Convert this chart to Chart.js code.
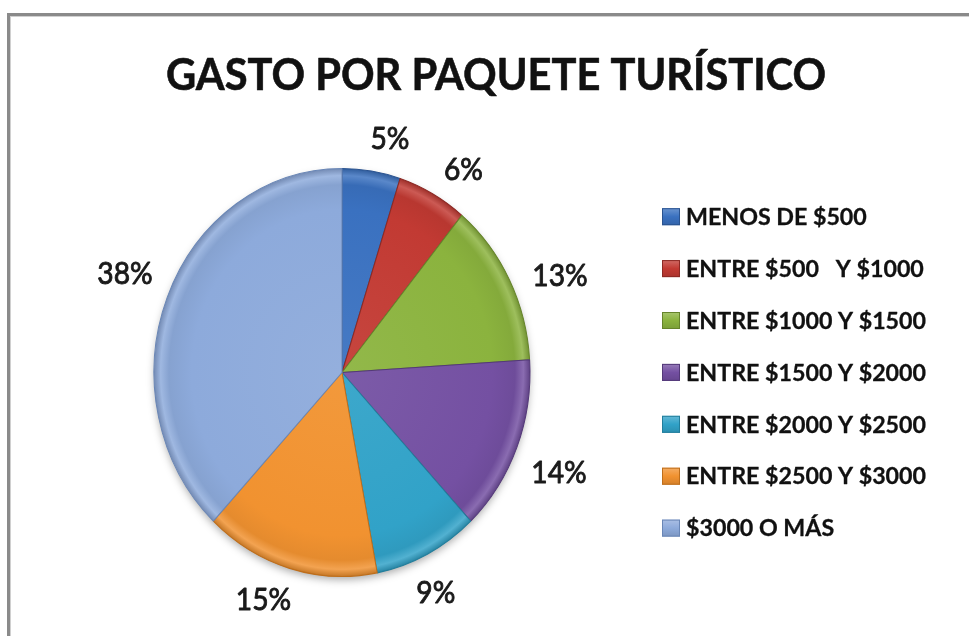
<!DOCTYPE html>
<html>
<head>
<meta charset="utf-8">
<title>Gasto por paquete turístico</title>
<script src="https://cdn.jsdelivr.net/npm/chart.js@4.4.1/dist/chart.umd.min.js"></script>
<style>
  html, body { margin: 0; padding: 0; background: #ffffff; }
  #wrap { width: 969px; height: 636px; position: relative; }
  canvas { display: block; }
</style>
</head>
<body>
<div id="wrap"><canvas id="chart" width="969" height="636"></canvas></div>
<script>
// ---- data ----
const chartTitle = 'GASTO POR PAQUETE TURÍSTICO';
const categories = [
  'MENOS DE $500',
  'ENTRE $500   Y $1000',
  'ENTRE $1000 Y $1500',
  'ENTRE $1500 Y $2000',
  'ENTRE $2000 Y $2500',
  'ENTRE $2500 Y $3000',
  '$3000 O MÁS'
];
const shares = [5, 6, 13, 14, 9, 15, 38];
const sliceColors = ['#3A71C0', '#C23A33', '#8BB33E', '#7450A2', '#31A2C8', '#F19230', '#8DAADB'];
const edgeColors  = ['#2A5390', '#8C2924', '#66842B', '#543979', '#227E9C', '#BE6E1B', '#6986B6'];

// ---- layout ----
const PIE = { cx: 342, cy: 372.5, r: 188, stretchY: 1.085 };
const TITLE = { x: 496, baseline: 90, cap: 32, width: 660 };
const LEGEND = { boxX: 662, boxW: 18, boxH: 17, textX: 686, firstY: 216.7, step: 51.9, cap: 16.5, refWidth: 240 };
const LABEL = { gap: 23, digitH: 22, refWidth: 39, turn: 3 * Math.PI / 180 };

function mix(hex, toWhite, t) {
  const n = parseInt(hex.slice(1), 16);
  let r = (n >> 16) & 255, g = (n >> 8) & 255, b = n & 255;
  const v = toWhite ? 255 : 0;
  r = Math.round(r + (v - r) * t);
  g = Math.round(g + (v - g) * t);
  b = Math.round(b + (v - b) * t);
  return `rgb(${r},${g},${b})`;
}

// bevelled fill for each slice
function sliceFill(c) {
  const base = sliceColors[c.dataIndex];
  const chart = c.chart, area = chart.chartArea;
  if (!area) return base;
  const cx = (area.left + area.right) / 2, cy = (area.top + area.bottom) / 2;
  const g = chart.ctx.createRadialGradient(cx, cy, 0, cx, cy, PIE.r);
  g.addColorStop(0, mix(base, true, 0.06));
  g.addColorStop(0.8, base);
  g.addColorStop(0.92, mix(base, false, 0.05));
  g.addColorStop(0.965, mix(base, true, 0.16));
  g.addColorStop(1, mix(base, false, 0.18));
  return g;
}

// draw text scaled to a measured reference width, optionally thickened
function scaledText(ctx, text, x, y, sx, align, thicken) {
  ctx.save();
  ctx.translate(x, y);
  ctx.scale(sx, 1);
  ctx.textAlign = align;
  ctx.fillText(text, 0, 0);
  if (thicken) {
    ctx.lineWidth = thicken;
    ctx.lineJoin = 'round';
    ctx.strokeStyle = ctx.fillStyle;
    ctx.strokeText(text, 0, 0);
  }
  ctx.restore();
}

const framePlugin = {
  id: 'frame',
  beforeDraw(chart) {
    const ctx = chart.ctx;
    ctx.save();
    ctx.fillStyle = '#ffffff';
    ctx.fillRect(0, 0, chart.width, chart.height);
    ctx.fillStyle = '#8a8a8a';
    ctx.fillRect(7, 13, chart.width - 7, 3);
    ctx.fillRect(7, 13, 3, chart.height - 13);
    ctx.fillStyle = '#d0d0d0';
    ctx.fillRect(10, 16, chart.width - 10, 1);
    ctx.fillRect(10, 16, 1, chart.height - 16);
    ctx.restore();
  }
};

// stretch the pie vertically around its centre and give it a soft drop shadow
const stretchPlugin = {
  id: 'stretch',
  beforeDatasetsDraw(chart) {
    const ctx = chart.ctx;
    const arc = chart.getDatasetMeta(0).data[0];
    const cx = arc.x, cy = arc.y, r = arc.outerRadius;
    ctx.save();
    ctx.translate(cx, cy);
    ctx.scale(1, PIE.stretchY);
    ctx.translate(-cx, -cy);
    ctx.save();
    ctx.shadowColor = 'rgba(0,0,0,0.35)';
    ctx.shadowBlur = 9;
    ctx.shadowOffsetY = 4;
    ctx.fillStyle = '#ffffff';
    ctx.beginPath();
    ctx.arc(cx, cy, r - 1, 0, Math.PI * 2);
    ctx.fill();
    ctx.restore();
  },
  afterDatasetsDraw(chart) {
    chart.ctx.restore();
  }
};

const textPlugin = {
  id: 'texts',
  afterDraw(chart) {
    const ctx = chart.ctx;
    ctx.save();

    // title
    ctx.fillStyle = '#111111';
    const tSize = TITLE.cap / 0.72;
    ctx.font = `bold ${tSize}px Lato`;
    ctx.textBaseline = 'alphabetic';
    const tsx = TITLE.width / ctx.measureText(chartTitle).width;
    scaledText(ctx, chartTitle, TITLE.x, TITLE.baseline, tsx, 'center', 0.6);

    // percentage labels outside each slice
    const meta = chart.getDatasetMeta(0);
    const lSize = LABEL.digitH / 0.72;
    ctx.font = `${lSize}px Lato`;
    ctx.fillStyle = '#1a1a1a';
    const lsx = LABEL.refWidth / ctx.measureText('5%').width;
    const total = shares.reduce((a, b) => a + b, 0);
    meta.data.forEach((arc, i) => {
      const txt = Math.round(shares[i] / total * 100) + '%';
      const w = ctx.measureText(txt).width * lsx, h = LABEL.digitH;
      const a = (arc.startAngle + arc.endAngle) / 2 + LABEL.turn;
      const ca = Math.cos(a), sa = Math.sin(a);
      const rr = arc.outerRadius + LABEL.gap;
      const x = arc.x + ca * rr + ca * w / 2;
      const y = arc.y + sa * rr * PIE.stretchY + sa * h / 2;
      scaledText(ctx, txt, x, y + h / 2, lsx, 'center', 0.9);
    });

    // legend
    const gSize = LEGEND.cap / 0.72;
    ctx.font = `bold ${gSize}px Lato`;
    const gsx = LEGEND.refWidth / ctx.measureText(categories[2]).width;
    categories.forEach((name, i) => {
      const yc = LEGEND.firstY + i * LEGEND.step;
      const bx = LEGEND.boxX, by = yc - LEGEND.boxH / 2;
      const grd = ctx.createLinearGradient(0, by, 0, by + LEGEND.boxH);
      grd.addColorStop(0, mix(sliceColors[i], true, 0.25));
      grd.addColorStop(0.5, sliceColors[i]);
      grd.addColorStop(1, mix(sliceColors[i], false, 0.12));
      ctx.fillStyle = grd;
      ctx.fillRect(bx, by, LEGEND.boxW, LEGEND.boxH);
      ctx.strokeStyle = edgeColors[i];
      ctx.lineWidth = 1;
      ctx.strokeRect(bx + 0.5, by + 0.5, LEGEND.boxW - 1, LEGEND.boxH - 1);
      ctx.fillStyle = '#111111';
      scaledText(ctx, name, LEGEND.textX, yc + LEGEND.cap / 2, gsx, 'left', 0.3);
    });

    ctx.restore();
  }
};

function build() {
  const side = 440;
  new Chart(document.getElementById('chart'), {
    type: 'pie',
    data: {
      labels: categories,
      datasets: [{
        data: shares,
        backgroundColor: sliceFill,
        borderColor: edgeColors,
        borderWidth: 1,
        clip: false
      }]
    },
    options: {
      responsive: false,
      animation: false,
      events: [],
      radius: PIE.r,
      layout: {
        padding: {
          left: PIE.cx - side / 2,
          right: 969 - (PIE.cx + side / 2),
          top: PIE.cy - side / 2,
          bottom: 636 - (PIE.cy + side / 2)
        }
      },
      plugins: {
        legend: { display: false },
        title: { display: false },
        tooltip: { enabled: false }
      }
    },
    plugins: [framePlugin, stretchPlugin, textPlugin]
  });
}

if (document.fonts && document.fonts.load) {
  Promise.all([
    document.fonts.load('bold 40px Lato'),
    document.fonts.load('30px Lato')
  ]).then(build, build);
} else {
  build();
}
</script>
</body>
</html>
